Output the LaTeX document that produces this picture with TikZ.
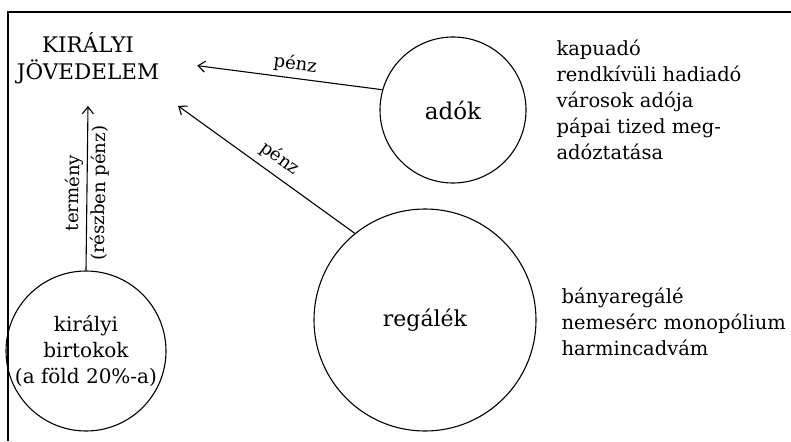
\documentclass[tikz,border=0pt]{standalone}
\usepackage{fontspec}
\setmainfont{DejaVu Serif}
\usetikzlibrary{arrows.meta}

\begin{document}
\begin{tikzpicture}[x=1pt, y=-1pt,
    kor/.style={draw, circle, line width=1.1pt, inner sep=0pt, align=center},
    lista/.style={anchor=west, align=left, font=\fontsize{19.5}{26}\selectfont},
    descr/.style={font=\fontsize{18}{20}\selectfont, sloped}
  ]
  \useasboundingbox (0,0) rectangle (791,441);
  \draw[line width=2.2pt] (8,441) -- (8,12) -- (791,12);

  \node (jov) [align=center, inner xsep=38pt, inner ysep=22pt, font=\fontsize{21.5}{27}\selectfont] at (88,58) {KIRÁLYI\\JÖVEDELEM};
  \node (ado) [kor, minimum size=146pt, font=\fontsize{23}{26}\selectfont] at (453,110) {adók};
  \node (reg) [kor, minimum size=222pt, font=\fontsize{22}{26}\selectfont] at (425,320) {regálék};
  \node (bir) [kor, minimum size=160pt, font=\fontsize{20}{26}\selectfont] at (86,351) {királyi\\birtokok\\(a föld 20\%-a)};

  \node (adolista) [lista] at (553,100) {kapuadó\\rendkívüli hadiadó\\városok adója\\pápai tized meg-\\adóztatása};
  \node (reglista) [lista] at (558,322) {bányaregálé\\nemesérc monopólium\\harmincadvám};

  \path[->, line width=1.1pt, >={Straight Barb[length=7pt,width=11pt]}]
    (ado.164) edge node[descr, above=1pt, pos=0.48]{pénz} (jov.-4)
    (reg.129) edge node[descr, above=4pt, pos=0.48]{pénz} (jov.-28)
    (bir.north) edge node[descr, above, pos=0.47]{termény} node[descr, below, pos=0.47]{(részben pénz)} (jov.south)
    ;
\end{tikzpicture}
\end{document}
